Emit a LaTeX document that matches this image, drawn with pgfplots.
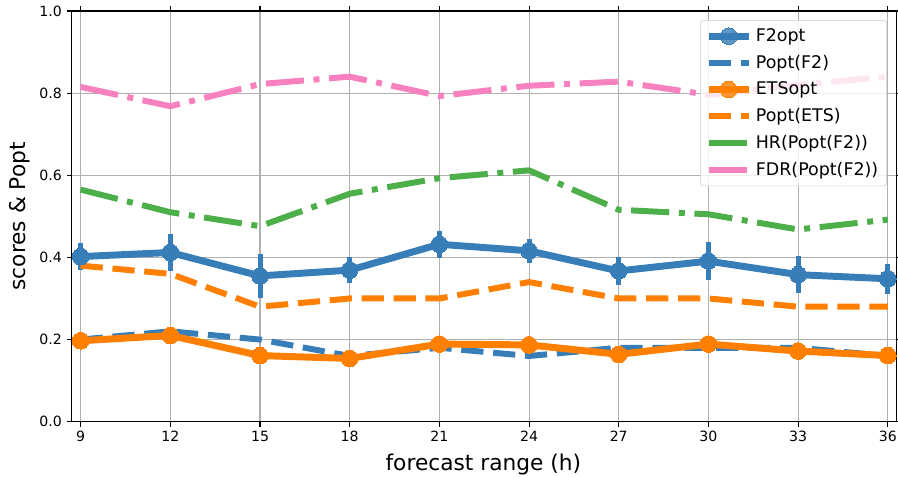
\documentclass[border=0pt]{standalone}
\usepackage{fontspec}
\setmainfont{DejaVu Sans}
\usepackage{pgfplots}
\pgfplotsset{compat=1.18}
\definecolor{cblue}{HTML}{377EB8}
\definecolor{corange}{HTML}{FF7F00}
\definecolor{cgreen}{HTML}{4DAF4A}
\definecolor{cpink}{HTML}{F781BF}
\definecolor{cgrid}{HTML}{B0B0B0}
\begin{document}
\begin{tikzpicture}
\begin{axis}[
  name=ax,
  scale only axis, width=594bp, height=295.7bp,
  xmin=8.7, xmax=36.3, ymin=0, ymax=1,
  xtick={9,12,15,18,21,24,27,30,33,36},
  ytick={0,0.2,0.4,0.6,0.8,1.0},
  yticklabel style={/pgf/number format/fixed, /pgf/number format/fixed zerofill, /pgf/number format/precision=1},
  /pgf/number format/assume math mode=true,
  ticklabel style={font=\fontsize{10.2}{12}\selectfont},
  grid=major, major grid style={color=cgrid, line width=0.8bp},
  tick align=outside, major tick length=3.5bp, tick style={black, line width=0.8bp},
  axis line style={line width=0.8bp},
  xlabel={forecast range (h)}, ylabel={scores \& Popt},
  label style={font=\fontsize{15.7}{18}\selectfont},
  xlabel style={at={(axis description cs:0.499,-0.1177)}, anchor=base},
  ylabel style={at={(axis description cs:-0.0626,0.5)}, anchor=center},
  legend cell align=left,
  legend style={at={(0.988,0.978)}, anchor=north east, font=\fontsize{12.6}{15}\selectfont,
    draw=black!20, fill=white, fill opacity=0.8, text opacity=1, draw opacity=1, rounded corners=2bp,
    row sep=3.3bp, inner sep=3.5bp, nodes={inner sep=2.5bp}},
  legend image code/.code={\draw[mark repeat=2,mark phase=2,#1] plot coordinates {(0bp,0bp) (14.5bp,0bp) (29bp,0bp)};},
  line join=round,
]
\addplot[cblue, line width=5bp, mark=*, mark size=6bp, mark options={solid, fill=cblue, draw=cblue, line width=0bp},
  error bars/.cd, y dir=both, y explicit, error mark=none, error bar style={line width=3.6bp, cblue, solid}]
  coordinates {
  (9,0.402) +- (0,0.033)
  (12,0.412) +- (0,0.045)
  (15,0.355) +- (0,0.053)
  (18,0.369) +- (0,0.031)
  (21,0.432) +- (0,0.033)
  (24,0.416) +- (0,0.030)
  (27,0.367) +- (0,0.033)
  (30,0.391) +- (0,0.047)
  (33,0.358) +- (0,0.045)
  (36,0.348) +- (0,0.037)
  };
\addlegendentry{F2opt}
\addplot[cblue, line width=4.3bp, dash pattern=on 16bp off 7bp] coordinates {
  (9,0.20) (12,0.22) (15,0.20) (18,0.16) (21,0.18) (24,0.16) (27,0.18) (30,0.18) (33,0.18) (36,0.16)
  };
\addlegendentry{Popt(F2)}
\addplot[corange, line width=5bp, mark=*, mark size=6bp, mark options={solid, fill=corange, draw=corange, line width=0bp}] coordinates {
  (9,0.197) (12,0.210) (15,0.161) (18,0.154) (21,0.189) (24,0.187) (27,0.164) (30,0.189) (33,0.172) (36,0.161)
  };
\addlegendentry{ETSopt}
\addplot[corange, line width=4.3bp, dash pattern=on 16bp off 7bp] coordinates {
  (9,0.38) (12,0.36) (15,0.28) (18,0.30) (21,0.30) (24,0.34) (27,0.30) (30,0.30) (33,0.28) (36,0.28)
  };
\addlegendentry{Popt(ETS)}
\addplot[cgreen, line width=4.3bp, dash pattern=on 27.5bp off 6.9bp on 4.3bp off 6.9bp] coordinates {
  (9,0.565) (12,0.510) (15,0.476) (18,0.555) (21,0.593) (24,0.612) (27,0.516) (30,0.505) (33,0.468) (36,0.492)
  };
\addlegendentry{HR(Popt(F2))}
\addplot[cpink, line width=4.3bp, dash pattern=on 27.5bp off 6.9bp on 4.3bp off 6.9bp] coordinates {
  (9,0.815) (12,0.768) (15,0.822) (18,0.840) (21,0.793) (24,0.818) (27,0.828) (30,0.796) (33,0.820) (36,0.840)
  };
\addlegendentry{FDR(Popt(F2))}
\end{axis}
\pgfresetboundingbox
\path[use as bounding box] ([shift={(-51.6bp,-39.8bp)}]ax.south west) rectangle ([shift={(0.9bp,7.9bp)}]ax.north east);
\end{tikzpicture}
\end{document}
